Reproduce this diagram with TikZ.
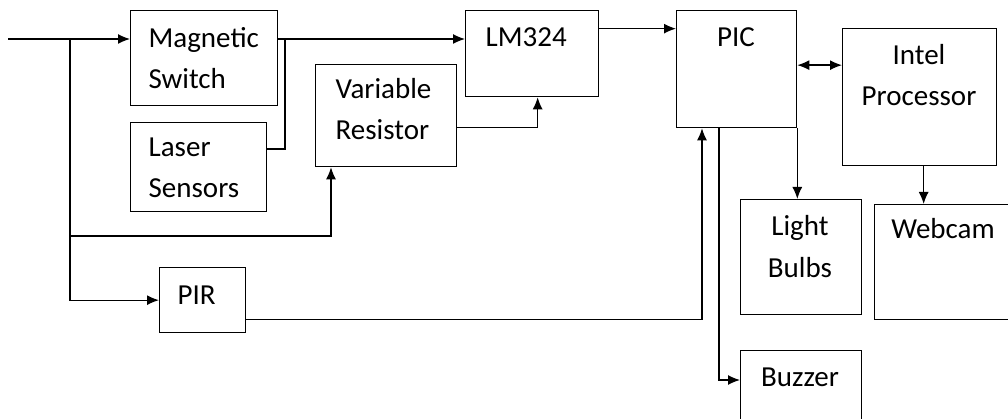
\documentclass[tikz,border=0pt]{standalone}
\usepackage{fontspec}
\setmainfont{Carlito}
\usetikzlibrary{arrows.meta}

\begin{document}
\begin{tikzpicture}[x=1pt, y=-1pt, >={Latex[length=12pt,width=10pt]}, line width=1.3pt,
  blk/.style={draw, inner sep=0pt, anchor=north west},
  txt/.style={inner sep=0pt, font=\fontsize{29}{41}\selectfont}]
  \useasboundingbox (0,0) rectangle (1008,419);
  \clip (0,0) rectangle (1008,419);
  % blocks
  \node[blk, minimum width=147pt, minimum height=95pt]  (mag)    at (130,10)  {};
  \node[blk, minimum width=136pt, minimum height=89pt]  (laser)  at (130,122) {};
  \node[blk, minimum width=141pt, minimum height=102pt] (var)    at (315,64)  {};
  \node[blk, minimum width=133pt, minimum height=86pt]  (lm)     at (465,10)  {};
  \node[blk, minimum width=120pt, minimum height=117pt] (pic)    at (676,10)  {};
  \node[blk, minimum width=154pt, minimum height=137pt] (intel)  at (842,28)  {};
  \node[blk, minimum width=121pt, minimum height=115pt] (bulbs)  at (740,199) {};
  \node[blk, minimum width=138pt, minimum height=115pt] (webcam) at (874,204) {};
  \node[blk, minimum width=121pt, minimum height=80pt]  (buzzer) at (740,350) {};
  \node[blk, minimum width=86pt,  minimum height=65pt]  (pir)    at (159,267) {};
  % texts (base = last line)
  \node[txt, anchor=base west, align=left] (magT)   at (148,89)  {Magnetic\\Switch};
  \node[txt, anchor=base west, align=left] (laserT) at (148,198) {Laser\\Sensors};
  \node[txt, anchor=base west, align=left] (varT)   at (335,140) {Variable\\Resistor};
  \node[txt, anchor=base west] (lmT)  at (485,47)  {LM324};
  \node[txt, anchor=base west] (pirT) at (177,305) {PIR};
  \node[txt, anchor=base] (picT)   at (736,47)  {PIC};
  \node[txt, anchor=base, align=center] (intelT) at (919,106) {Intel\\Processor};
  \node[txt, anchor=base, align=center] (bulbsT) at (800,277) {Light\\Bulbs};
  \node[txt, anchor=base] (webcamT) at (943,239) {Webcam};
  \node[txt, anchor=base] (buzzerT) at (800,386) {Buzzer};
  % junctions
  \coordinate (in) at (8,39);
  \coordinate (j1) at (70,39);
  \coordinate (j2) at (70,236);
  \coordinate (j3) at (285,39);
  \coordinate (lmout) at ([yshift=25pt]lm.east);
  \coordinate (picout) at ([yshift=4pt]pic.east);
  \coordinate (intelout) at ([xshift=4pt]intel.south);
  \coordinate (picbuz) at ([xshift=43pt]pic.south west);
  \coordinate (buzin) at (740,380);
  % connectors
  \draw[->] (in) -- (in -| mag.west);
  \draw[->] (j1) |- (pir.west);
  \draw[->] (j2) -| ([xshift=16pt]var.south west);
  \draw[->] (in -| mag.east) -- (in -| lm.west);
  \draw (laser.east |- 0,149) -| (j3);
  \draw[->] ([yshift=-12pt]var.east) -| ([xshift=5.5pt]lm.south);
  \draw[->] (lmout) -- (lmout -| pic.west);
  \draw[<->] (picout) -- (picout -| intel.west);
  \draw[->] (pic.south east) -- (pic.south east |- bulbs.north);
  \draw[->] (intelout) -- (intelout |- webcam.north);
  \draw[->] (picbuz) |- (buzin);
  \draw[->] ([yshift=-19pt]pir.east) -| ([xshift=26pt]pic.south west);
\end{tikzpicture}
\end{document}
